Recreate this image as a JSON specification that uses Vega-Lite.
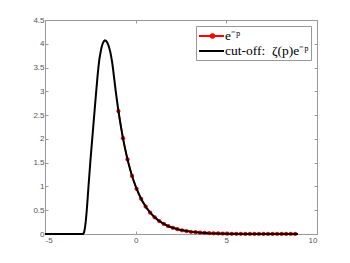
{
  "$schema": "https://vega.github.io/schema/vega-lite/v6.json",
  "width": 272,
  "height": 214,
  "autosize": {"type": "none"},
  "padding": {"left": 45, "top": 20, "right": 33, "bottom": 29},
  "background": "white",
  "config": {
    "view": {"stroke": "#999999", "strokeWidth": 1},
    "axis": {
      "grid": false,
      "domainColor": "#999999",
      "tickColor": "#999999",
      "tickSize": -3,
      "labelColor": "#555555",
      "labelFont": "Liberation Sans",
      "labelFontSize": 8,
      "title": null
    }
  },
  "datasets": {
    "red": [
      {"p": -0.95, "y": 2.586}, {"p": -0.70, "y": 2.014}, {"p": -0.45, "y": 1.568}, {"p": -0.20, "y": 1.221},
      {"p": 0.05, "y": 0.951}, {"p": 0.30, "y": 0.741}, {"p": 0.55, "y": 0.577}, {"p": 0.80, "y": 0.449},
      {"p": 1.05, "y": 0.350}, {"p": 1.30, "y": 0.273}, {"p": 1.55, "y": 0.212}, {"p": 1.80, "y": 0.165},
      {"p": 2.05, "y": 0.129}, {"p": 2.30, "y": 0.100}, {"p": 2.55, "y": 0.078}, {"p": 2.80, "y": 0.061},
      {"p": 3.05, "y": 0.047}, {"p": 3.30, "y": 0.037}, {"p": 3.55, "y": 0.029}, {"p": 3.80, "y": 0.022},
      {"p": 4.05, "y": 0.017}, {"p": 4.30, "y": 0.014}, {"p": 4.55, "y": 0.011}, {"p": 4.80, "y": 0.0082},
      {"p": 5.05, "y": 0.0064}, {"p": 5.30, "y": 0.0050}, {"p": 5.55, "y": 0.0039}, {"p": 5.80, "y": 0.0030},
      {"p": 6.05, "y": 0.0024}, {"p": 6.30, "y": 0.0018}, {"p": 6.55, "y": 0.0014}, {"p": 6.80, "y": 0.0011},
      {"p": 7.05, "y": 0.00087}, {"p": 7.30, "y": 0.00068}, {"p": 7.55, "y": 0.00053}, {"p": 7.80, "y": 0.00041},
      {"p": 8.05, "y": 0.00032}, {"p": 8.30, "y": 0.00025}, {"p": 8.55, "y": 0.00019}, {"p": 8.80, "y": 0.00015}
    ],
    "black": [
      {"p": -5.0, "y": 0}, {"p": -4.0, "y": 0}, {"p": -3.0, "y": 0}, {"p": -2.9, "y": 0},
      {"p": -2.85, "y": 0.03}, {"p": -2.8, "y": 0.12}, {"p": -2.75, "y": 0.27}, {"p": -2.7, "y": 0.48},
      {"p": -2.65, "y": 0.74}, {"p": -2.6, "y": 1.01}, {"p": -2.5, "y": 1.52},
      {"p": -2.4, "y": 1.98}, {"p": -2.3, "y": 2.44}, {"p": -2.2, "y": 2.89}, {"p": -2.1, "y": 3.33},
      {"p": -2.05, "y": 3.52}, {"p": -2.0, "y": 3.68}, {"p": -1.95, "y": 3.79}, {"p": -1.9, "y": 3.89},
      {"p": -1.85, "y": 3.97}, {"p": -1.8, "y": 4.02}, {"p": -1.75, "y": 4.055}, {"p": -1.7, "y": 4.07},
      {"p": -1.65, "y": 4.065}, {"p": -1.6, "y": 4.045}, {"p": -1.55, "y": 4.01}, {"p": -1.5, "y": 3.965},
      {"p": -1.45, "y": 3.90}, {"p": -1.4, "y": 3.83}, {"p": -1.35, "y": 3.73}, {"p": -1.3, "y": 3.62},
      {"p": -1.25, "y": 3.48}, {"p": -1.2, "y": 3.32}, {"p": -1.15, "y": 3.16},
      {"p": -1.1, "y": 3.004}, {"p": -1.0, "y": 2.718}, {"p": -0.9, "y": 2.460},
      {"p": -0.8, "y": 2.226}, {"p": -0.7, "y": 2.014}, {"p": -0.6, "y": 1.822}, {"p": -0.5, "y": 1.649},
      {"p": -0.4, "y": 1.492}, {"p": -0.3, "y": 1.350}, {"p": -0.2, "y": 1.221}, {"p": -0.1, "y": 1.105},
      {"p": 0.0, "y": 1.0}, {"p": 0.2, "y": 0.819}, {"p": 0.4, "y": 0.670}, {"p": 0.6, "y": 0.549},
      {"p": 0.8, "y": 0.449}, {"p": 1.0, "y": 0.368}, {"p": 1.25, "y": 0.287}, {"p": 1.5, "y": 0.223},
      {"p": 1.75, "y": 0.174}, {"p": 2.0, "y": 0.135}, {"p": 2.5, "y": 0.082}, {"p": 3.0, "y": 0.050},
      {"p": 3.5, "y": 0.030}, {"p": 4.0, "y": 0.018}, {"p": 5.0, "y": 0.0067}, {"p": 6.0, "y": 0.0025},
      {"p": 7.0, "y": 0.0009}, {"p": 8.0, "y": 0.0003}, {"p": 8.95, "y": 0.0001}
    ]
  },
  "resolve": {"axis": {"x": "independent", "y": "independent"}},
  "layer": [
    {
      "data": {"name": "red"},
      "mark": {"type": "line", "strokeWidth": 1.5},
      "encoding": {
        "x": {"field": "p", "type": "quantitative", "scale": {"domain": [-5, 10], "nice": false},
              "axis": {"orient": "top", "labels": false, "values": [-5, 0, 5, 10], "domain": false}},
        "y": {"field": "y", "type": "quantitative", "scale": {"domain": [0, 4.5], "nice": false},
              "axis": {"orient": "right", "labels": false, "values": [0, 0.5, 1, 1.5, 2, 2.5, 3, 3.5, 4, 4.5], "domain": false}},
        "color": {
          "datum": "e⁻ᵖ",
          "scale": {"domain": ["e⁻ᵖ", "cut-off: ζ(p)e⁻ᵖ"], "range": ["#ff0000", "#000000"]},
          "legend": {
            "title": null,
            "orient": "top-right",
            "offset": 6,
            "strokeColor": "#999999",
            "fillColor": "white",
            "padding": 2,
            "symbolSize": 196,
            "symbolStrokeWidth": 2,
            "labelFont": "Liberation Serif",
            "labelFontSize": 13.5,
            "labelFontWeight": "normal",
            "labelColor": "#000000",
            "labelOffset": 11,
            "rowPadding": 0,
            "labelExpr": "datum.value === 'e⁻ᵖ' ? 'e⁻ᵖ' : 'cut-off:\u2002ζ(p)e⁻ᵖ'",
            "encode": {
              "symbols": {
                "update": {
                  "shape": {"signal": "datum.value === 'e⁻ᵖ' ? 'M-1,0H2.57M0.69,0A0.24,0.24,0,1,1,1.17,0A0.24,0.24,0,1,1,0.69,0Z' : 'M-1,0H2.57'"},
                  "fill": {"signal": "datum.value === 'e⁻ᵖ' ? '#ff0000' : 'transparent'"}
                }
              }
            }
          }
        }
      }
    },
    {
      "data": {"name": "red"},
      "mark": {"type": "point", "filled": true, "color": "#ff0000", "size": 18, "opacity": 1},
      "encoding": {
        "x": {"field": "p", "type": "quantitative", "axis": null},
        "y": {"field": "y", "type": "quantitative", "axis": null}
      }
    },
    {
      "data": {"name": "black"},
      "mark": {"type": "line", "strokeWidth": 2},
      "encoding": {
        "x": {"field": "p", "type": "quantitative",
              "axis": {"orient": "bottom", "values": [-5, 0, 5, 10], "labelExpr": "'' + datum.value", "labelPadding": 5}},
        "y": {"field": "y", "type": "quantitative",
              "axis": {"orient": "left", "values": [0, 0.5, 1, 1.5, 2, 2.5, 3, 3.5, 4, 4.5], "labelExpr": "'' + datum.value", "labelPadding": 4}},
        "color": {"datum": "cut-off: ζ(p)e⁻ᵖ"}
      }
    }
  ]
}
